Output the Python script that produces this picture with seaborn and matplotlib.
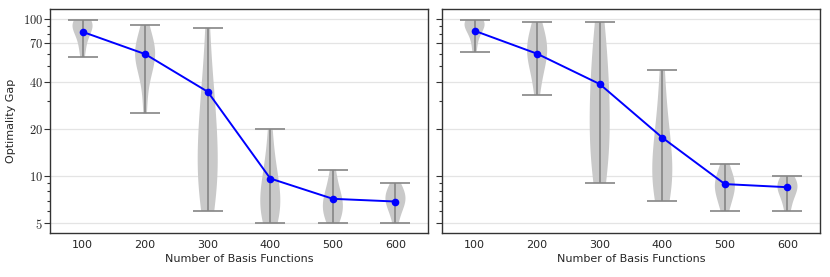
import numpy as np
import pandas as pd
import matplotlib
matplotlib.use("Agg")
import matplotlib.pyplot as plt
import seaborn as sns

basis = [100, 200, 300, 400, 500, 600]

# optimality-gap samples per basis size (left panel)
left_100 = [57.3, 66, 74, 80, 85, 89, 92, 94, 95.5, 97, 98.1]
left_200 = [25.1, 36, 45, 51, 55, 58, 60, 62, 65, 70, 78, 91.6]
left_300 = [6.02, 7, 8, 9.5, 11, 13, 15, 18, 22, 27, 34, 45, 88.1]
left_400 = [5.0, 5.4, 5.8, 6.3, 6.9, 7.6, 8.5, 9.5, 11, 13.5, 20.0]
left_500 = [5.0, 5.5, 5.9, 6.3, 6.7, 7.1, 7.8, 8.8, 11.0]
left_600 = [5.0, 5.9, 6.4, 6.8, 7.1, 7.4, 7.8, 8.3, 9.0]
left_mean = [83.0, 59.9, 34.5, 9.67, 7.18, 6.9]

# right panel
right_100 = [62.2, 74, 82, 88, 92, 94.5, 96, 97, 98.1]
right_200 = [33.0, 43, 50, 56, 60, 64, 68, 74, 84, 95.2]
right_300 = [9.04, 11, 13.5, 17, 21, 26, 32, 40, 52, 70, 96.2]
right_400 = [7.0, 7.8, 8.8, 10, 11.5, 13.5, 16, 20, 27, 47.1]
right_500 = [6.0, 7.0, 7.8, 8.4, 8.9, 9.4, 10.2, 12.0]
right_600 = [6.0, 7.2, 8.0, 8.5, 8.8, 9.2, 10.0]
right_mean = [84.3, 60.2, 38.6, 17.6, 8.91, 8.51]

yticks = [5, 10, 20, 40, 70, 100]

panels = [
    ([left_100, left_200, left_300, left_400, left_500, left_600], left_mean),
    ([right_100, right_200, right_300, right_400, right_500, right_600], right_mean),
]

sns.set_style("white")
plt.rcParams["font.family"] = ["DejaVu Sans"]
plt.rcParams["mathtext.fontset"] = "cm"

fig = plt.figure(figsize=(8.3, 2.77), dpi=100)
ax1 = fig.add_axes([50 / 830, 44 / 277, 378 / 830, 224 / 277])
ax2 = fig.add_axes([442 / 830, 44 / 277, 378 / 830, 224 / 277], sharey=ax1)

for ax, (samples, means) in zip([ax1, ax2], panels):
    df = pd.DataFrame({
        "basis": np.repeat(basis, [len(s) for s in samples]),
        "gap": np.concatenate(samples),
    })
    ax.set_yscale("log")
    ax.grid(axis="y", which="major", color="#e4e4e4", linewidth=0.9, zorder=0)
    ax.set_axisbelow(True)
    sns.violinplot(data=df, x="basis", y="gap", order=basis, ax=ax,
                   inner=None, cut=0, width=0.32, density_norm="width",
                   color="#c9c9c9", linewidth=0, saturation=1, bw_adjust=1.15)
    for c in ax.collections:
        c.set_edgecolor("none")
        c.set_facecolor("#c9c9c9")
    lo = [min(s) for s in samples]
    hi = [max(s) for s in samples]
    pos = np.arange(len(basis))
    ax.vlines(pos, lo, hi, color="#858585", linewidth=1.2, zorder=3)
    ax.hlines(lo, pos - 0.24, pos + 0.24, color="#858585", linewidth=1.2, zorder=3)
    ax.hlines(hi, pos - 0.24, pos + 0.24, color="#858585", linewidth=1.2, zorder=3)
    n_before = len(ax.lines)
    sns.pointplot(x=basis, y=means, order=basis, ax=ax, color="blue",
                  markers="o", markersize=5.5, linewidth=1.4, native_scale=False)
    for ln in ax.lines[n_before:]:
        ln.set_zorder(5)
        ln.set_markeredgewidth(0)
        ln.set_markerfacecolor("blue")
    ax.set_xlim(-0.52, 5.52)
    ax.set_ylim(4.35, 116)
    ax.set_xlabel("Number of Basis Functions", fontsize=8, labelpad=3)
    ax.set_ylabel("")
    ax.tick_params(axis="x", labelsize=8, length=3, width=0.8, color="#333333", pad=2)
    ax.tick_params(axis="y", which="both", left=True, color="#333333", width=0.8)
    ax.tick_params(axis="y", which="major", length=4, pad=1)
    ax.tick_params(axis="y", which="minor", length=2)
    for sp in ax.spines.values():
        sp.set_color("#333333")
        sp.set_linewidth(1.0)

ax1.set_yticks(yticks)
ax1.set_yticklabels([f"${t}$" for t in yticks], fontsize=9)
ax1.set_ylabel("Optimality Gap", fontsize=8, labelpad=5)
plt.setp(ax2.get_yticklabels(), visible=False)

fig.savefig("out.png", dpi=100)
